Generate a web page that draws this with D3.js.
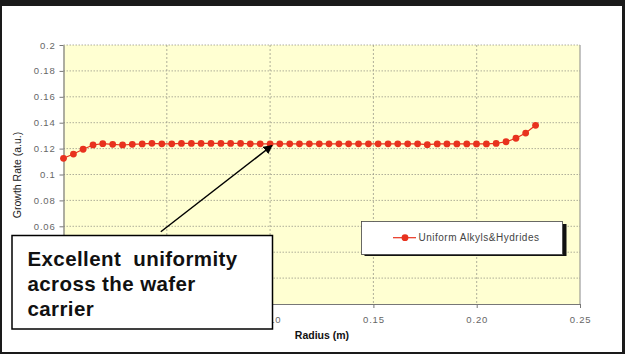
<!DOCTYPE html>
<html>
<head>
<meta charset="utf-8">
<script src="https://cdn.jsdelivr.net/npm/d3@7"></script>
<style>
  body { margin: 0; background: #1a1a1a; }
  svg { display: block; }
  text { font-family: "Liberation Sans", Arial, sans-serif; }
</style>
</head>
<body>
<div id="chart"></div>
<script>
// radius (m) of each sample point
var radius = [0, 0.0048, 0.0095, 0.0143, 0.0190, 0.0238, 0.0286, 0.0333, 0.0381, 0.0428,
  0.0476, 0.0524, 0.0571, 0.0619, 0.0666, 0.0714, 0.0762, 0.0809, 0.0857, 0.0904,
  0.0952, 0.1000, 0.1047, 0.1095, 0.1142, 0.1190, 0.1238, 0.1285, 0.1333, 0.1380,
  0.1428, 0.1476, 0.1523, 0.1571, 0.1618, 0.1666, 0.1714, 0.1761, 0.1809, 0.1856,
  0.1904, 0.1952, 0.1999, 0.2047, 0.2094, 0.2142, 0.2190, 0.2237, 0.2285];

// growth rate (a.u.)
var growthRate = [0.1125, 0.1158, 0.1195, 0.1228, 0.1238, 0.1233, 0.1228, 0.1233, 0.1236, 0.1241,
  0.1237, 0.1237, 0.1240, 0.1240, 0.1240, 0.1240, 0.1240, 0.1240, 0.1240, 0.1237,
  0.1237, 0.1237, 0.1237, 0.1237, 0.1237, 0.1237, 0.1237, 0.1237, 0.1237, 0.1237,
  0.1237, 0.1237, 0.1237, 0.1237, 0.1237, 0.1237, 0.1237, 0.1230, 0.1236, 0.1236,
  0.1236, 0.1236, 0.1236, 0.1236, 0.1240, 0.1253, 0.1280, 0.1320, 0.1380];

var xTicks = [0, 0.05, 0.10, 0.15, 0.20, 0.25];
var yTicks = [0, 0.02, 0.04, 0.06, 0.08, 0.1, 0.12, 0.14, 0.16, 0.18, 0.2];
var yTickLabels = ["0", "0.02", "0.04", "0.06", "0.08", "0.1", "0.12", "0.14", "0.16", "0.18", "0.2"];
var seriesName = "Uniform Alkyls&Hydrides";
var noteLines = ["Excellent  uniformity", "across the wafer", "carrier"];

var width = 625, height = 354;
var plotL = 63.5, plotR = 580, plotT = 45, plotB = 304;
var red = "#e8321e";

var svg = d3.select("#chart").append("svg")
  .attr("width", width)
  .attr("height", height);

// slide frame
svg.append("rect")
  .attr("x", 2).attr("y", 6)
  .attr("width", 620).attr("height", 346)
  .attr("fill", "#fff");

var x = d3.scaleLinear().domain([0, 0.25]).range([plotL, plotR]);
var y = d3.scaleLinear().domain([0, 0.2]).range([plotB, plotT]);

// plot background
svg.append("rect")
  .attr("x", plotL).attr("y", plotT)
  .attr("width", plotR - plotL).attr("height", plotB - plotT)
  .attr("fill", "#ffffd2");

// gridlines
svg.append("g").selectAll("line")
  .data(yTicks.slice(1))
  .enter().append("line")
  .attr("x1", plotL).attr("x2", plotR)
  .attr("y1", function (d) { return y(d); })
  .attr("y2", function (d) { return y(d); })
  .attr("stroke", "#9a9a8a")
  .attr("stroke-width", 0.8)
  .attr("stroke-dasharray", "1.5,1.5");

svg.append("g").selectAll("line")
  .data(xTicks.slice(1, -1))
  .enter().append("line")
  .attr("x1", function (d) { return x(d); })
  .attr("x2", function (d) { return x(d); })
  .attr("y1", plotT).attr("y2", plotB)
  .attr("stroke", "#9a9a8a")
  .attr("stroke-width", 0.8)
  .attr("stroke-dasharray", "2,2");

// right border of plot
svg.append("line")
  .attr("x1", plotR).attr("x2", plotR)
  .attr("y1", plotT).attr("y2", plotB)
  .attr("stroke", "#888").attr("stroke-width", 1);

// axes
var xAxis = d3.axisBottom(x).tickValues(xTicks).tickFormat(d3.format(".2f"))
  .tickSizeInner(4).tickSizeOuter(0).tickPadding(8);
var yAxis = d3.axisLeft(y).tickValues(yTicks)
  .tickFormat(function (d, i) { return yTickLabels[i]; })
  .tickSizeInner(4).tickSizeOuter(0).tickPadding(4);

var gx = svg.append("g")
  .attr("transform", "translate(0," + plotB + ")")
  .call(xAxis);
var gy = svg.append("g")
  .attr("transform", "translate(" + plotL + ",0)")
  .call(yAxis);

[gx, gy].forEach(function (g) {
  g.select(".domain").attr("stroke", "#777").attr("stroke-width", 1.2);
  g.selectAll(".tick line").attr("stroke", "#777");
  g.selectAll(".tick text")
    .attr("fill", "#666")
    .attr("font-size", 9.5)
    .attr("letter-spacing", 0.8)
    .attr("font-family", "\"Liberation Sans\", Arial, sans-serif");
});

svg.append("text")
  .text("Growth Rate (a.u.)")
  .attr("transform", "translate(21,175) rotate(-90)")
  .attr("text-anchor", "middle")
  .attr("font-size", 10.5)
  .attr("fill", "#222");

svg.append("text")
  .text("Radius (m)")
  .attr("x", 322).attr("y", 339)
  .attr("text-anchor", "middle")
  .attr("font-size", 10.5)
  .attr("font-weight", "bold")
  .attr("fill", "#111");

// series
var points = radius.map(function (r, i) { return [r, growthRate[i]]; });

var line = d3.line()
  .x(function (d) { return x(d[0]); })
  .y(function (d) { return y(d[1]); });

svg.append("path")
  .datum(points)
  .attr("d", line)
  .attr("fill", "none")
  .attr("stroke", red)
  .attr("stroke-width", 1.2);

svg.selectAll(".dot")
  .data(points)
  .enter().append("circle")
  .attr("class", "dot")
  .attr("cx", function (d) { return x(d[0]); })
  .attr("cy", function (d) { return y(d[1]); })
  .attr("r", 3.4)
  .attr("fill", red);

// legend
svg.append("rect")
  .attr("x", 364.5).attr("y", 224)
  .attr("width", 202).attr("height", 32)
  .attr("fill", "#111");
svg.append("rect")
  .attr("x", 361.5).attr("y", 221.5)
  .attr("width", 201).attr("height", 33)
  .attr("fill", "#fff")
  .attr("stroke", "#444")
  .attr("stroke-width", 0.8);
svg.append("line")
  .attr("x1", 393).attr("x2", 416)
  .attr("y1", 237.7).attr("y2", 237.7)
  .attr("stroke", red).attr("stroke-width", 1.2);
svg.append("circle")
  .attr("cx", 405).attr("cy", 237.7).attr("r", 3.4)
  .attr("fill", red);
svg.append("text")
  .text(seriesName)
  .attr("x", 418.5).attr("y", 241.2)
  .attr("font-size", 10)
  .attr("letter-spacing", 0.5)
  .attr("fill", "#444");

// annotation arrow
svg.append("defs").append("marker")
  .attr("id", "head")
  .attr("viewBox", "0 0 10 10")
  .attr("refX", 9).attr("refY", 5)
  .attr("markerWidth", 9).attr("markerHeight", 9)
  .attr("markerUnits", "userSpaceOnUse")
  .attr("orient", "auto")
  .append("path")
  .attr("d", "M0,0 L10,5 L0,10 z")
  .attr("fill", "#000");

svg.append("line")
  .attr("x1", x(0.0471)).attr("y1", y(0.0558))
  .attr("x2", x(0.1009)).attr("y2", y(0.1224))
  .attr("stroke", "#000")
  .attr("stroke-width", 1.5)
  .attr("marker-end", "url(#head)");

// annotation box
svg.append("rect")
  .attr("x", 12).attr("y", 235.5)
  .attr("width", 260.5).attr("height", 93.5)
  .attr("fill", "#fff")
  .attr("stroke", "#000")
  .attr("stroke-width", 1.5);

svg.append("g").selectAll("text")
  .data(noteLines)
  .enter().append("text")
  .attr("x", 27.5)
  .attr("y", function (d, i) { return 265.5 + i * 25.3; })
  .attr("font-size", 20.5)
  .attr("font-weight", "bold")
  .attr("letter-spacing", 0.4)
  .attr("fill", "#111")
  .attr("xml:space", "preserve")
  .style("white-space", "pre")
  .text(function (d) { return d; });
</script>
</body>
</html>
